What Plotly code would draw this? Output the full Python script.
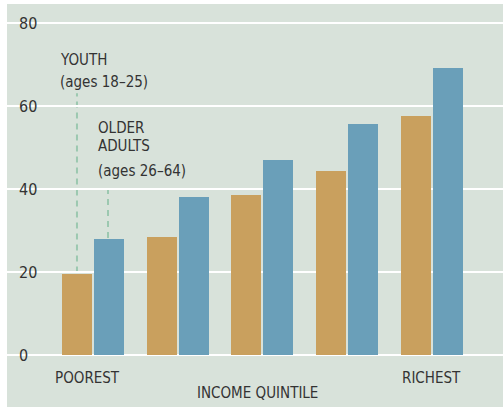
import plotly.graph_objects as go

categories = ["Q1", "Q2", "Q3", "Q4", "Q5"]
youth = [19.5, 28.4, 38.5, 44.3, 57.6]
older = [28.0, 38.1, 47.0, 55.7, 69.2]
yticks = [0, 20, 40, 60, 80]
end_labels = ["POOREST", "RICHEST"]
axis_title = "INCOME QUINTILE"
youth_lines = ["YOUTH", "(ages 18–25)"]
older_lines = ["OLDER", "ADULTS", "(ages 26–64)"]

FONT = "DejaVu Sans Condensed, sans-serif"
TXT = "#333333"
TAN = "#c9a05e"
BLUE = "#6a9fb9"
BG = "#d8e2da"

W = 0.354
fig = go.Figure()
fig.add_trace(go.Bar(x=list(range(5)), y=youth, marker_color=TAN, marker_line_width=0,
                     width=W, offset=-0.3658, hoverinfo="skip"))
fig.add_trace(go.Bar(x=list(range(5)), y=older, marker_color=BLUE, marker_line_width=0,
                     width=W, offset=0.0118, hoverinfo="skip"))

ymax, ymin = 84.58, -12.53
fig.update_layout(
    width=503, height=410,
    margin=dict(l=7, r=0, t=4, b=3),
    paper_bgcolor="white", plot_bgcolor=BG,
    showlegend=False,
    font=dict(family=FONT, size=15, color=TXT),
    xaxis=dict(range=[-1.0148, 4.838], showgrid=False, zeroline=False,
               showticklabels=False, ticks="", fixedrange=True),
    yaxis=dict(range=[ymin, ymax], tickvals=yticks, ticktext=[str(v) for v in yticks],
               showgrid=True, gridcolor="white", gridwidth=1.5,
               zeroline=True, zerolinecolor="white", zerolinewidth=1.5,
               ticklabelposition="inside", ticks="", ticklabelstandoff=9,
               tickfont=dict(family=FONT, size=16, color=TXT)),
    bargap=0,
)

fig.add_shape(type="line", x0=-0.189, x1=-0.189, y0=19.9, y1=63.1, xref="x", yref="y",
              line=dict(color="#9cc8b0", width=2, dash="6px,5px"), layer="below")
fig.add_shape(type="line", x0=0.177, x1=0.177, y0=28.2, y1=41.45, xref="x", yref="y",
              line=dict(color="#9cc8b0", width=2, dash="6px,5px"), layer="below")

for txt, yy in zip(youth_lines, [71.2, 65.8]):
    fig.add_annotation(x=-0.413, y=yy, text=txt, xref="x", yref="y",
                       xanchor="left", yanchor="middle", showarrow=False,
                       font=dict(size=15, color=TXT))
for txt, yy in zip(older_lines, [54.7, 50.25, 44.35]):
    fig.add_annotation(x=0.035, y=yy, text=txt, xref="x", yref="y",
                       xanchor="left", yanchor="middle", showarrow=False,
                       font=dict(size=15, color=TXT))

fig.add_annotation(x=-0.06, y=-5.55, text=end_labels[0], xref="x", yref="y",
                   showarrow=False, font=dict(size=15, color=TXT))
fig.add_annotation(x=3.99, y=-5.55, text=end_labels[1], xref="x", yref="y",
                   showarrow=False, font=dict(size=15, color=TXT))
fig.add_annotation(x=1.94, y=-9.2, text=axis_title, xref="x", yref="y",
                   showarrow=False, font=dict(size=15, color=TXT))

fig.write_html("out.html", config={"displayModeBar": False},
               post_script="document.body.style.margin='0px';")
